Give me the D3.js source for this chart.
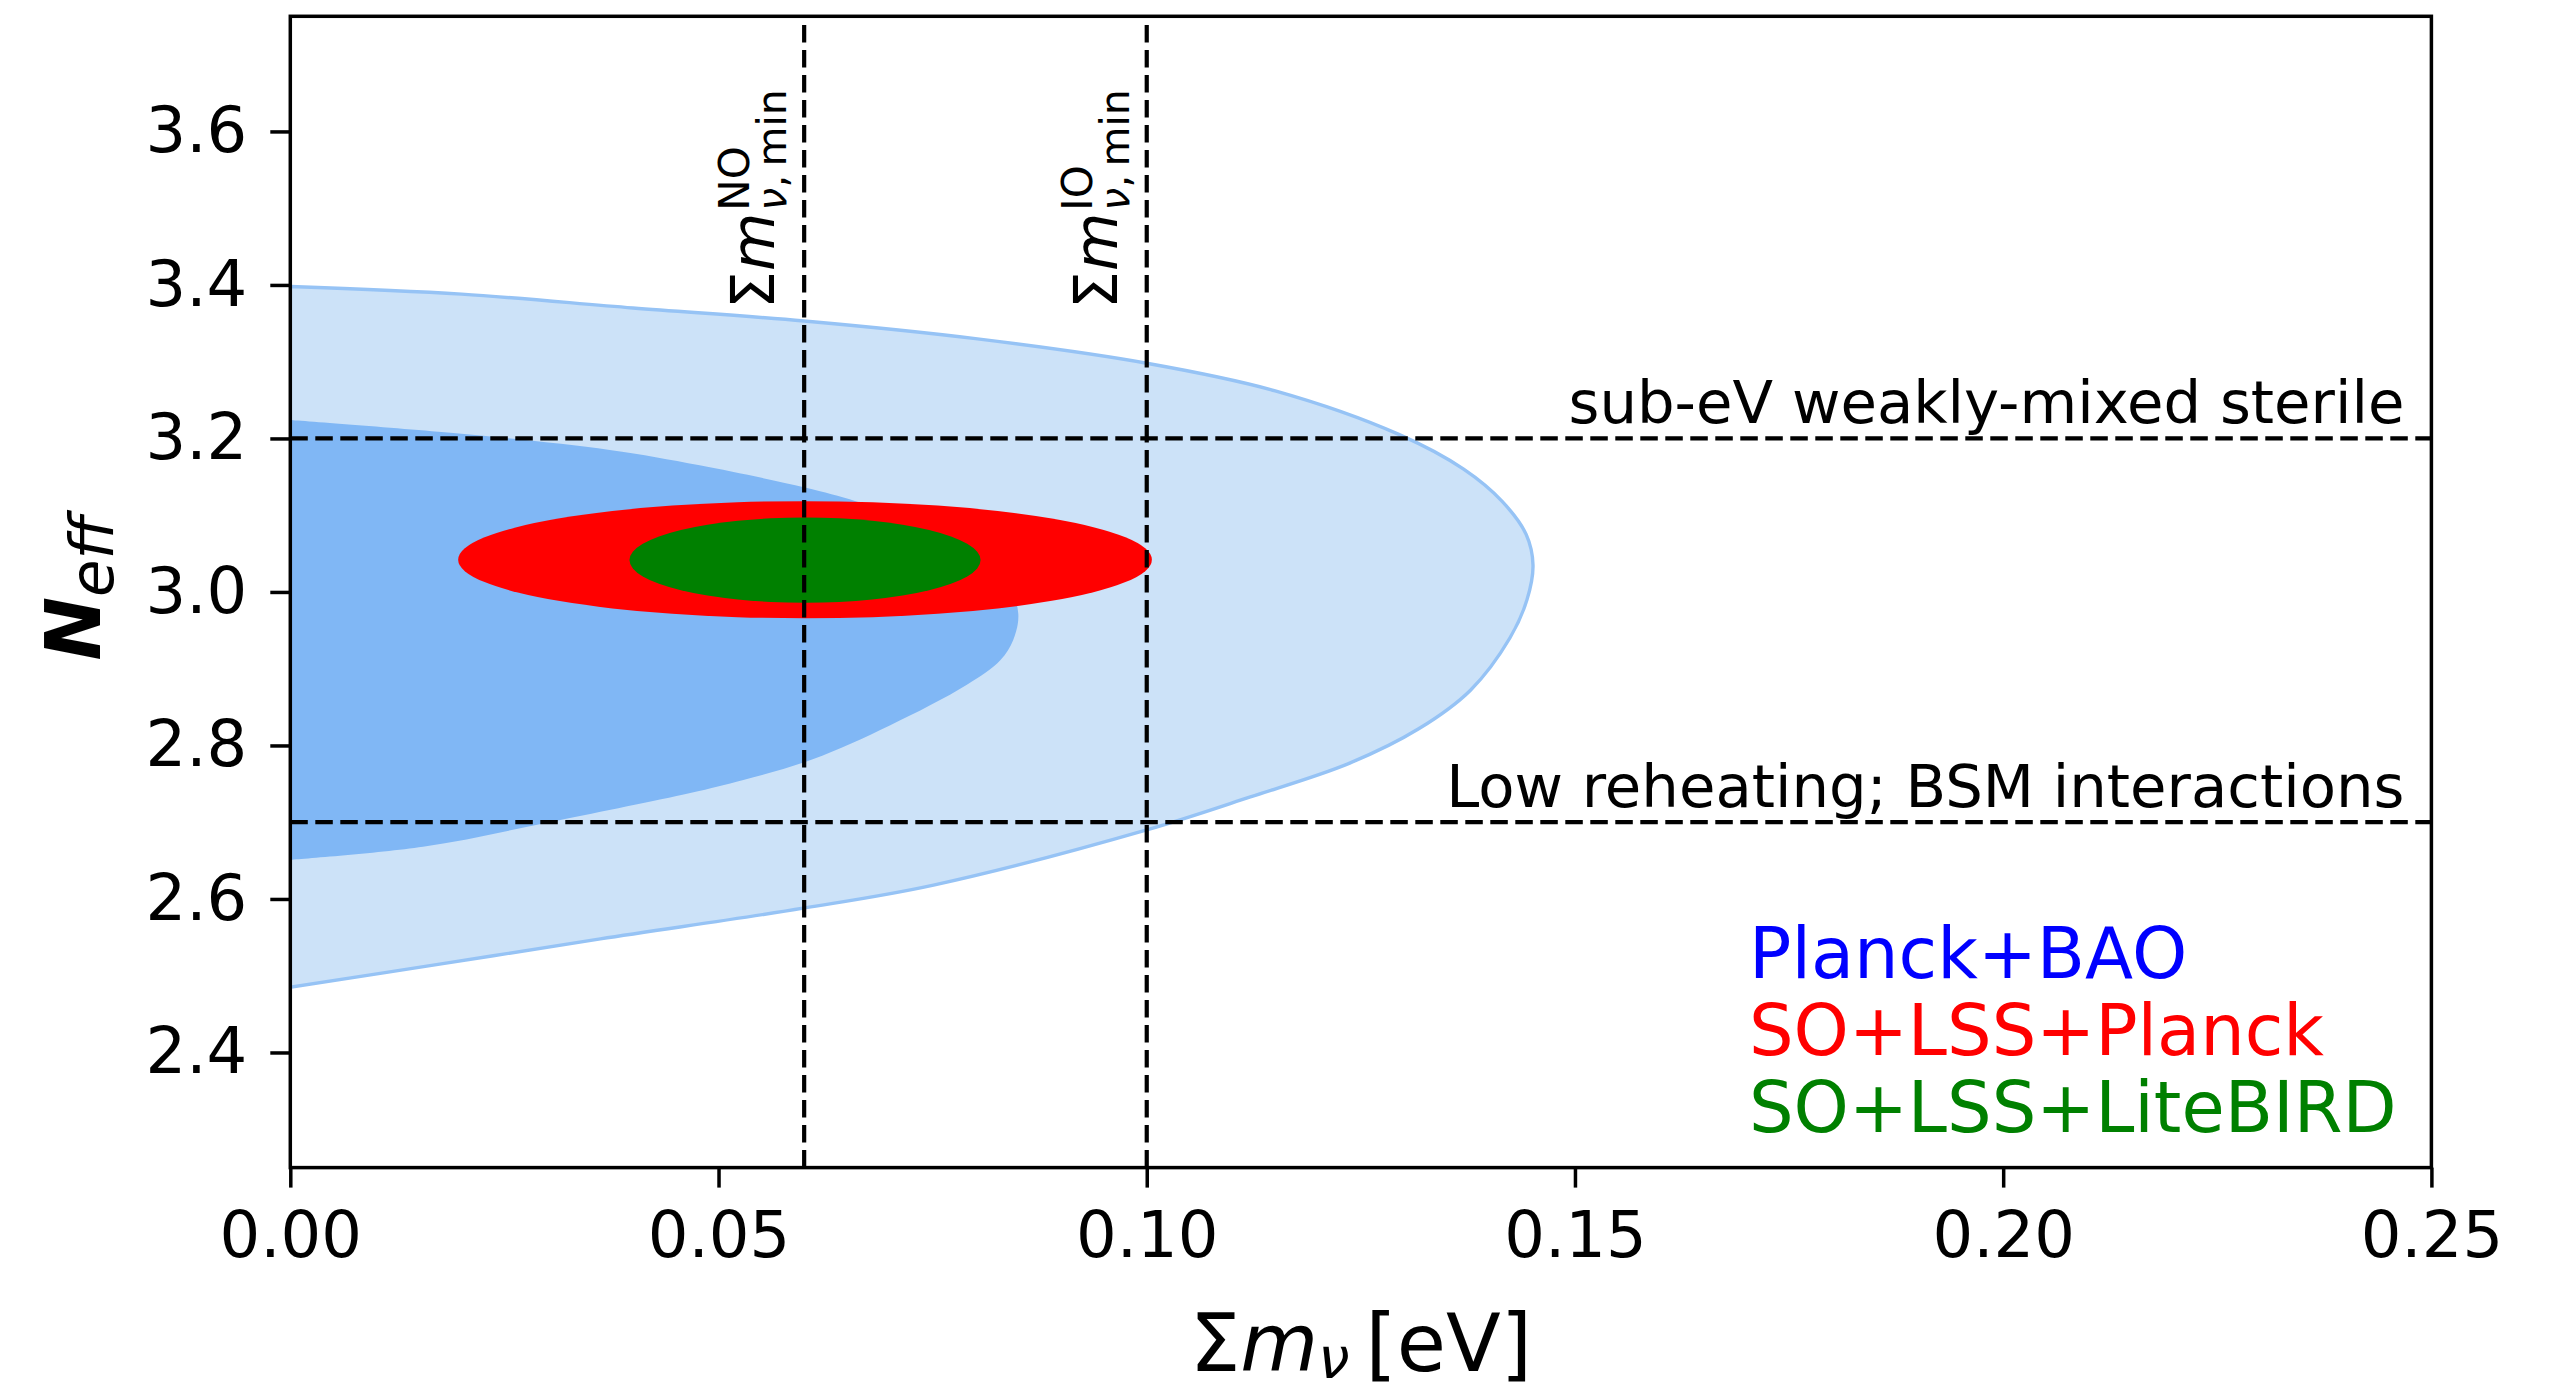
<!DOCTYPE html>
<html>
<head>
<meta charset="utf-8">
<script src="https://cdn.jsdelivr.net/npm/d3@7"></script>
<style>
  html, body { margin: 0; padding: 0; background: #ffffff; }
  svg { display: block; }
  text { font-family: "DejaVu Sans", sans-serif; }
</style>
</head>
<body>
<script>
// ---------------- data ----------------
const xDomain = [0, 0.25];
const yDomain = [2.25, 3.75];
const xTicks = [0.00, 0.05, 0.10, 0.15, 0.20, 0.25];
const yTicks = [2.4, 2.6, 2.8, 3.0, 3.2, 3.4, 3.6];

// Planck+BAO 95% region boundary (sum m_nu [eV], N_eff)
const planckBao95 = [
  [0, 3.398], [0.02, 3.388], [0.04, 3.370], [0.06, 3.353], [0.08, 3.330],
  [0.10, 3.298], [0.115, 3.262], [0.1295, 3.205], [0.137, 3.160], [0.1415, 3.118],
  [0.1443, 3.075], [0.1451, 3.035], [0.1444, 2.990], [0.1424, 2.940], [0.1378, 2.872],
  [0.1318, 2.822], [0.1237, 2.777], [0.1121, 2.733], [0.1000, 2.690], [0.0751, 2.618],
  [0.0599, 2.588], [0.0362, 2.548], [0.018, 2.516], [0, 2.485]
];
// Planck+BAO 68% region boundary
const planckBao68 = [
  [0, 3.224], [0.02, 3.206], [0.0373, 3.185], [0.0478, 3.165], [0.0601, 3.136],
  [0.0661, 3.118], [0.074, 3.088], [0.080, 3.050], [0.0838, 3.010], [0.0850, 2.972],
  [0.0844, 2.937], [0.0829, 2.911], [0.0790, 2.879], [0.070, 2.826], [0.0610, 2.782],
  [0.0529, 2.755], [0.0467, 2.738], [0.0311, 2.702], [0.0155, 2.668], [0, 2.651]
];

// forecast ellipses
const forecastNames = ["SO+LSS+Planck", "SO+LSS+LiteBIRD"];
const forecastCenter = [[0.0601, 3.042], [0.0601, 3.0415]];
const forecastHalfAxes = [[0.0405, 0.0763], [0.0205, 0.0555]];
const forecastColors = ["#ff0000", "#008000"];

// reference lines
const hLineValues = [3.2, 2.7];
const hLineLabels = ["sub-eV weakly-mixed sterile", "Low reheating; BSM interactions"];
const vLineValues = [0.06, 0.10];
const vLineSup = ["NO", "IO"];

// legend
const legendLabels = ["Planck+BAO", "SO+LSS+Planck", "SO+LSS+LiteBIRD"];
const legendColors = ["#0000ff", "#ff0000", "#008000"];

// ---------------- layout ----------------
const W = 2557, H = 1392;
const margin = { left: 290.3, top: 16.3, right: 2557 - 2431.4, bottom: 1392 - 1167.6 };
const pw = W - margin.left - margin.right;
const ph = H - margin.top - margin.bottom;

const svg = d3.select("body").append("svg")
  .attr("width", W).attr("height", H)
  .style("background", "#ffffff");

const x = d3.scaleLinear().domain(xDomain).range([margin.left, margin.left + pw]);
const y = d3.scaleLinear().domain(yDomain).range([margin.top + ph, margin.top]);

svg.append("defs").append("clipPath").attr("id", "plotclip")
  .append("rect").attr("x", margin.left).attr("y", margin.top)
  .attr("width", pw).attr("height", ph);

const plot = svg.append("g").attr("clip-path", "url(#plotclip)");

const line = d3.line().x(d => x(d[0])).y(d => y(d[1])).curve(d3.curveCatmullRom.alpha(0.5));

// 95% region
plot.append("path").attr("d", line(planckBao95) + "Z")
  .attr("fill", "#cce2f8").attr("stroke", "#96c3f5").attr("stroke-width", 3.4);
// 68% region
plot.append("path").attr("d", line(planckBao68) + "Z")
  .attr("fill", "#80b7f5").attr("stroke", "none");

// forecast ellipses
forecastNames.forEach((n, i) => {
  const c = forecastCenter[i], h = forecastHalfAxes[i];
  plot.append("ellipse")
    .attr("cx", x(c[0])).attr("cy", y(c[1]))
    .attr("rx", x(c[0] + h[0]) - x(c[0]))
    .attr("ry", y(c[1]) - y(c[1] + h[1]))
    .attr("fill", forecastColors[i]);
});

// dashed reference lines
const dash = "17.5,7.5";
vLineValues.forEach(v => {
  plot.append("line")
    .attr("x1", x(v)).attr("x2", x(v))
    .attr("y1", y(yDomain[0])).attr("y2", y(yDomain[1]))
    .attr("stroke", "#000").attr("stroke-width", 4.2).attr("stroke-dasharray", dash);
});
hLineValues.forEach(v => {
  plot.append("line")
    .attr("x1", x(xDomain[0])).attr("x2", x(xDomain[1]))
    .attr("y1", y(v)).attr("y2", y(v))
    .attr("stroke", "#000").attr("stroke-width", 4.2).attr("stroke-dasharray", dash);
});

// horizontal line labels
hLineValues.forEach((v, i) => {
  svg.append("text")
    .attr("x", x(xDomain[1]) - 27).attr("y", y(v) - 15)
    .attr("text-anchor", "end")
    .attr("font-size", 59.3).attr("fill", "#000")
    .text(hLineLabels[i]);
});

// vertical line labels (rotated)
vLineValues.forEach((v, i) => {
  const g = svg.append("g")
    .attr("transform", `translate(${x(v) - 30},309) rotate(-90)`);
  const main = g.append("text").attr("x", 0).attr("y", 0).attr("font-size", 60);
  main.append("tspan").text("\u03A3");
  main.append("tspan").attr("font-style", "italic").text("m");
  const L = main.node().getComputedTextLength() + 2;
  g.append("text").attr("x", L).attr("y", -25).attr("font-size", 42).text(vLineSup[i]);
  const sub = g.append("text").attr("x", L).attr("y", 12).attr("font-size", 41);
  sub.append("tspan").attr("font-style", "italic").text("\u03BD");
  sub.append("tspan").text(",\u2009min");
});

// legend
legendLabels.forEach((t, i) => {
  svg.append("text")
    .attr("x", 1749).attr("y", 978 + i * 77)
    .attr("font-size", 70.3).attr("fill", legendColors[i])
    .text(t);
});

// axes
const xAxis = d3.axisBottom(x).tickValues(xTicks).tickFormat(d3.format(".2f"))
  .tickSize(20).tickPadding(24);
const yAxis = d3.axisLeft(y).tickValues(yTicks).tickFormat(d3.format(".1f"))
  .tickSize(20).tickPadding(23);

const gx = svg.append("g").attr("transform", `translate(0,${margin.top + ph})`).call(xAxis);
const gy = svg.append("g").attr("transform", `translate(${margin.left},0)`).call(yAxis);
[gx, gy].forEach(g => {
  g.select(".domain").remove();
  g.selectAll(".tick line").attr("stroke", "#000").attr("stroke-width", 3.5);
  g.selectAll(".tick text").attr("font-size", 64).attr("fill", "#000")
    .attr("font-family", "DejaVu Sans");
});
gy.selectAll(".tick text").attr("dy", "0.32em");

// spines
svg.append("rect")
  .attr("x", margin.left).attr("y", margin.top)
  .attr("width", pw).attr("height", ph)
  .attr("fill", "none").attr("stroke", "#000").attr("stroke-width", 3.5);

// x label
const xl = svg.append("text")
  .attr("x", margin.left + pw / 2).attr("y", 1371)
  .attr("text-anchor", "middle").attr("font-size", 80).attr("fill", "#000");
xl.append("tspan").text("\u03A3");
xl.append("tspan").attr("font-style", "italic").text("m");
xl.append("tspan").attr("font-style", "italic").attr("font-size", 56).attr("dy", 7).text("\u03BD");
xl.append("tspan").attr("dy", -7).text("\u2009[eV]");

// y label
const yl = svg.append("text")
  .attr("transform", `translate(100,${margin.top + ph / 2 - 4}) rotate(-90)`)
  .attr("text-anchor", "middle").attr("font-size", 76).attr("fill", "#000");
yl.append("tspan").attr("font-style", "italic").attr("font-weight", "bold").text("N");
yl.append("tspan").attr("font-style", "italic").attr("font-size", 61).attr("dy", 13).text("eff");
</script>
</body>
</html>
